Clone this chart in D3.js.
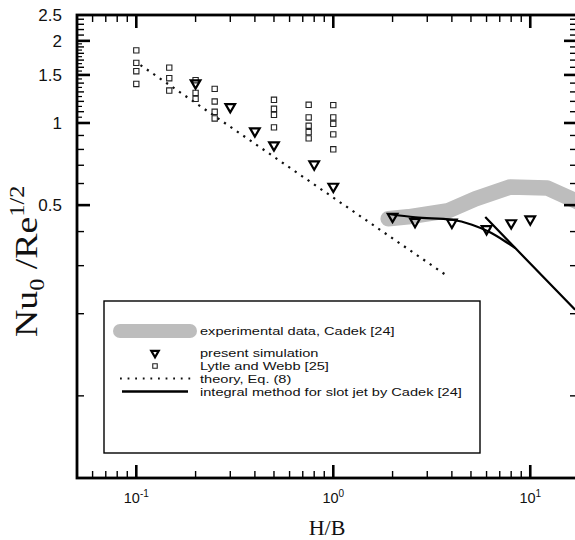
<!DOCTYPE html>
<html>
<head>
<meta charset="utf-8">
<script src="https://cdn.jsdelivr.net/npm/d3@7"></script>
<style>
  body { margin: 0; background: #fff; }
  svg { display: block; }
</style>
</head>
<body>
<svg id="chart" width="575" height="540"></svg>
<script>
// Each point: [H/B, Nu0/Re^(1/2)]
const lytleWebb = [
  [0.1, 1.846], [0.1, 1.66], [0.1, 1.548], [0.1, 1.39],
  [0.147, 1.596], [0.147, 1.459], [0.147, 1.315],
  [0.2, 1.435], [0.2, 1.289], [0.2, 1.226],
  [0.25, 1.333], [0.25, 1.199], [0.25, 1.099], [0.25, 1.039],
  [0.5, 1.216], [0.5, 1.127], [0.5, 1.071], [0.5, 0.964],
  [0.75, 1.166], [0.75, 1.048], [0.75, 0.977], [0.75, 0.926], [0.75, 0.878],
  [1.0, 1.163], [1.0, 1.048], [1.0, 0.993], [1.0, 0.908], [1.0, 0.801]
];
const simulation = [
  [0.2, 1.40], [0.3, 1.146], [0.4, 0.934], [0.5, 0.830], [0.8, 0.706], [1.0, 0.585],
  [2.0, 0.454], [2.6, 0.435], [4.0, 0.432], [6.0, 0.409], [8.0, 0.430], [10.0, 0.444]
];
const experimental = [
  [1.90, 0.446], [2.40, 0.453], [3.84, 0.477], [5.26, 0.527],
  [7.92, 0.583], [12.2, 0.578], [16.9, 0.519], [20, 0.49]
];
const integralCurve = [
  [1.91, 0.464], [2.61, 0.451], [4.0, 0.442], [5.06, 0.424],
  [6.14, 0.400], [7.47, 0.368], [8.39, 0.348]
];
const integralAsymptote = [[5.91, 0.452], [8.39, 0.348], [16.9, 0.207]];
const theory = [[0.105, 1.63], [3.82, 0.274]];

// Axis ticks
const xMajorTicks = [0.1, 1, 10];
const xMajorExponents = ["-1", "0", "1"];
const xMinorTicks = [0.06, 0.07, 0.08, 0.09, 0.2, 0.3, 0.4, 0.5, 0.6, 0.7, 0.8, 0.9,
                     2, 3, 4, 5, 6, 7, 8, 9];
const yLabelTicks = [0.5, 1, 1.5, 2, 2.5];
const yLabelText = ["0.5", "1", "1.5", "2", "2.5"];
const yMinorTicks = [0.1, 0.2, 0.3, 0.4, 0.6, 0.7, 0.8, 0.9,
                     1.1, 1.2, 1.3, 1.4, 1.6, 1.7, 1.8, 1.9, 2.1, 2.2, 2.3, 2.4];
// finer ticks along the left edge between 1 and 2
const yLeftFineTicks = [1.05, 1.15, 1.25, 1.35, 1.45, 1.55, 1.65, 1.75, 1.85, 1.95];

const legendEntries = [
  { key: "band", text: "experimental data, Cadek [24]" },
  { key: "tri", text: "present simulation" },
  { key: "sq", text: "Lytle and Webb [25]" },
  { key: "dot", text: "theory, Eq. (8)" },
  { key: "solid", text: "integral method for slot jet by Cadek [24]" }
];

const frameL = 77, frameR = 577, frameT = 15, frameB = 478;
const svg = d3.select("#chart");
const SANS = "'Liberation Sans', Arial, sans-serif";
const SERIF = "'Liberation Serif', 'Times New Roman', serif";

const x = d3.scaleLog().domain([0.05, 17.27]).range([frameL, frameR]);
const y = d3.scaleLog().domain([0.05, 2.5]).range([frameB, 14.4]);

svg.append("defs").append("clipPath").attr("id", "plotClip")
  .append("rect").attr("x", frameL).attr("y", frameT).attr("width", frameR - frameL).attr("height", frameB - frameT);

const plot = svg.append("g").attr("clip-path", "url(#plotClip)");
const line = d3.line().x(d => x(d[0])).y(d => y(d[1]));

// experimental band
plot.append("path").datum(experimental).attr("d", line)
  .attr("fill", "none").attr("stroke", "#bdbdbd").attr("stroke-width", 15.5)
  .attr("stroke-linecap", "round").attr("stroke-linejoin", "round");

// theory
plot.append("path").datum(theory).attr("d", line)
  .attr("fill", "none").attr("stroke", "#111").attr("stroke-width", 2.2)
  .attr("stroke-dasharray", "2.2 5.6");

// Lytle and Webb
const sq = d3.symbol(d3.symbolSquare, 28);
plot.selectAll(".sq").data(lytleWebb).join("path")
  .attr("transform", d => `translate(${x(d[0])},${y(d[1])})`)
  .attr("d", sq).attr("fill", "none").attr("stroke", "#222").attr("stroke-width", 1.1);

// integral method
plot.append("path").datum(integralCurve)
  .attr("d", d3.line().x(d => x(d[0])).y(d => y(d[1])).curve(d3.curveMonotoneX))
  .attr("fill", "none").attr("stroke", "#000").attr("stroke-width", 2.2);
plot.append("path").datum(integralAsymptote).attr("d", line)
  .attr("fill", "none").attr("stroke", "#000").attr("stroke-width", 2.2);

// present simulation
const tri = d3.symbol(d3.symbolTriangle, 40);
plot.selectAll(".tri").data(simulation).join("path")
  .attr("transform", d => `translate(${x(d[0])},${y(d[1])}) rotate(180)`)
  .attr("d", tri).attr("fill", "none").attr("stroke", "#000").attr("stroke-width", 2.2);

// frame
svg.append("rect").attr("x", frameL).attr("y", frameT).attr("width", frameR - frameL).attr("height", frameB - frameT)
  .attr("fill", "none").attr("stroke", "#000").attr("stroke-width", 2.8);

// ticks on all four sides, pointing inward
function xTicks(vals, len, w) {
  const g = svg.append("g").attr("stroke", "#000").attr("stroke-width", w);
  vals.forEach(v => {
    const px = x(v);
    g.append("line").attr("x1", px).attr("x2", px).attr("y1", frameB).attr("y2", frameB - len);
    g.append("line").attr("x1", px).attr("x2", px).attr("y1", frameT).attr("y2", frameT + len);
  });
}
function yTicks(vals, len, w, bothSides) {
  const g = svg.append("g").attr("stroke", "#000").attr("stroke-width", w);
  vals.forEach(v => {
    const py = y(v);
    g.append("line").attr("x1", frameL).attr("x2", frameL + len).attr("y1", py).attr("y2", py);
    if (bothSides) g.append("line").attr("x1", frameR).attr("x2", frameR - len).attr("y1", py).attr("y2", py);
  });
}
xTicks(xMajorTicks, 13, 2.6);
xTicks(xMinorTicks, 7, 1.4);
yTicks(yLabelTicks.filter(v => v < 2.45), 13, 2.6, true);
yTicks(yMinorTicks, 7, 1.4, true);
yTicks(yLeftFineTicks, 5, 1.2, false);

// x tick labels: 10^n
xMajorTicks.forEach((v, i) => {
  const t = svg.append("text").attr("x", x(v)).attr("y", 503)
    .attr("text-anchor", "middle").attr("font-family", SANS).attr("font-size", 14.5).attr("fill", "#111");
  t.append("tspan").text("10");
  t.append("tspan").attr("dy", -6).attr("font-size", 10).text(xMajorExponents[i]);
});

// y tick labels
yLabelTicks.forEach((v, i) => {
  svg.append("text").attr("x", 62).attr("y", y(v)).attr("dy", "0.36em")
    .attr("text-anchor", "end").attr("font-family", SANS).attr("font-size", 17).attr("fill", "#111")
    .text(yLabelText[i]);
});

// axis titles
svg.append("text").attr("x", 327).attr("y", 535).attr("text-anchor", "middle")
  .attr("font-family", SERIF).attr("font-size", 22).attr("fill", "#111").text("H/B");

const yt = svg.append("text").attr("transform", "translate(37,337) rotate(-90) scale(1.22,1)")
  .attr("text-anchor", "start").attr("font-family", SERIF).attr("font-size", 31).attr("fill", "#111");
yt.append("tspan").text("Nu");
yt.append("tspan").attr("dy", 7).attr("font-size", 20).text("0");
yt.append("tspan").attr("dy", -7).text(" /Re");
yt.append("tspan").attr("dy", -13).attr("font-size", 20).text("1/2");

// legend
const lg = svg.append("g");
lg.append("rect").attr("x", 104).attr("y", 301).attr("width", 376).attr("height", 152)
  .attr("fill", "#fff").attr("stroke", "#000").attr("stroke-width", 1.4);
const rowY = [331, 353, 366, 378.5, 391.5];
legendEntries.forEach((e, i) => {
  const ry = rowY[i];
  if (e.key === "band") {
    lg.append("line").attr("x1", 120).attr("x2", 190).attr("y1", ry).attr("y2", ry)
      .attr("stroke", "#bdbdbd").attr("stroke-width", 14).attr("stroke-linecap", "round");
  } else if (e.key === "tri") {
    lg.append("path").attr("transform", `translate(155,${ry}) rotate(180)`)
      .attr("d", d3.symbol(d3.symbolTriangle, 24)).attr("fill", "none").attr("stroke", "#000").attr("stroke-width", 2.2);
  } else if (e.key === "sq") {
    lg.append("path").attr("transform", `translate(155,${ry})`)
      .attr("d", d3.symbol(d3.symbolSquare, 20)).attr("fill", "none").attr("stroke", "#222").attr("stroke-width", 1.1);
  } else if (e.key === "dot") {
    lg.append("line").attr("x1", 120).attr("x2", 192).attr("y1", ry).attr("y2", ry)
      .attr("stroke", "#111").attr("stroke-width", 1.8).attr("stroke-dasharray", "1.8 5.8");
  } else {
    lg.append("line").attr("x1", 122).attr("x2", 188).attr("y1", ry).attr("y2", ry)
      .attr("stroke", "#000").attr("stroke-width", 2.4);
  }
  lg.append("text").attr("transform", `translate(200,${ry}) scale(1.27,1)`).attr("dy", "0.36em")
    .attr("font-family", SANS).attr("font-size", 11.5).attr("fill", "#111").text(e.text);
});
</script>
</body>
</html>
